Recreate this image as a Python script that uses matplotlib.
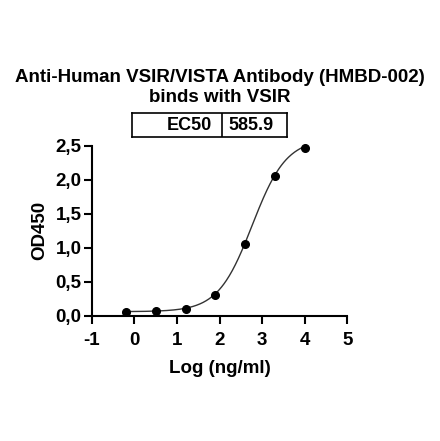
import numpy as np
import matplotlib
matplotlib.use('Agg')
import matplotlib.pyplot as plt
from matplotlib.ticker import FuncFormatter

plt.rcParams['font.family'] = ['Liberation Sans', 'DejaVu Sans']
plt.rcParams['font.weight'] = 'bold'
plt.rcParams['axes.unicode_minus'] = False

# measured points (log concentration vs OD450)
log_conc = [-0.2, 0.5, 1.2, 1.9, 2.6, 3.3, 4.0]
od450 = [0.054, 0.069, 0.094, 0.30, 1.06, 2.05, 2.47]

# 4PL fit parameters
bottom, top, ec50, hill = 0.06, 2.6, 585.9, 1.08

fig = plt.figure(figsize=(4.4, 4.41), dpi=100)
ax = fig.add_axes([0.209, 0.284, 0.580, 0.386])

xs = np.linspace(min(log_conc), max(log_conc), 300)
fit = bottom + (top - bottom) / (1 + 10 ** ((np.log10(ec50) - xs) * hill))
ax.plot(xs, fit, color='#333333', lw=1.0, clip_on=False)
ax.plot(log_conc, od450, 'o', color='black', ms=5.5, clip_on=False)

ax.set_xlim(-1, 5)
ax.set_ylim(0, 2.5)
ax.set_xticks(range(-1, 6))
ax.set_yticks(np.arange(0, 2.51, 0.5))
ax.yaxis.set_major_formatter(FuncFormatter(lambda v, p: f'{v:.1f}'.replace('.', ',')))
for s in ['top', 'right']:
    ax.spines[s].set_visible(False)
for s in ['left', 'bottom']:
    ax.spines[s].set_linewidth(1.5)
ax.tick_params(width=1.5, length=5.5, labelsize=13.5)
ax.tick_params(axis='x', pad=6)
ax.tick_params(axis='y', pad=2)
for lab in ax.get_xticklabels() + ax.get_yticklabels():
    lab.set_fontweight('bold')
ax.set_xlabel('Log (ng/ml)', fontsize=13.5, fontweight='bold', labelpad=8)
ax.set_ylabel('OD450', fontsize=13.5, fontweight='bold', labelpad=5)

fig.text(0.5, 1 - 78 / 441, 'Anti-Human VSIR/VISTA Antibody (HMBD-002)',
         ha='center', va='center', fontsize=13.5, fontweight='bold')
fig.text(0.5, 1 - 98 / 441, 'binds with VSIR',
         ha='center', va='center', fontsize=13.5, fontweight='bold')

# EC50 table
tab = fig.add_axes([132 / 440, 1 - 137 / 441, 155 / 440, 24 / 441])
tab.set_xlim(0, 155)
tab.set_ylim(0, 24)
tab.set_xticks([])
tab.set_yticks([])
for s in tab.spines.values():
    s.set_linewidth(1.2)
tab.axvline(90, color='black', lw=1.2)
tab.text(80, 12, 'EC50', ha='right', va='center', fontsize=13, fontweight='bold')
tab.text(96, 12, '585.9', ha='left', va='center', fontsize=13, fontweight='bold')

fig.savefig('out.png', dpi=100)
